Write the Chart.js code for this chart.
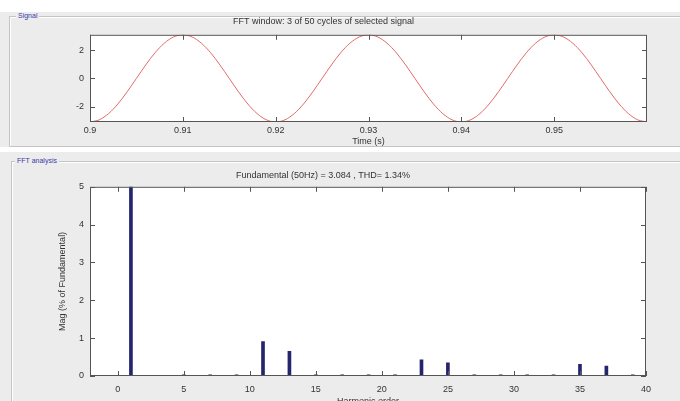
<!DOCTYPE html>
<html>
<head>
<meta charset="utf-8">
<script src="https://cdn.jsdelivr.net/npm/chart.js@4.4.1/dist/chart.umd.min.js"></script>
<style>
  html, body { margin: 0; padding: 0; background: #fff; overflow: hidden; }
  body { width: 680px; height: 401px; position: relative; font-family: 'Liberation Sans Narrow', 'Liberation Sans', Arial, sans-serif; }
  .gray { position: absolute; left: 0; width: 680px; background: #ececec; }
  .frame { position: absolute; border: 1px solid #c4c4c4; box-shadow: inset 1px 1px 0 #fff; }
  .legend { position: absolute; font-size: 7px; color: #3a3aa8; background: #ececec; padding: 0 2px; line-height: 8px; }
  canvas { position: absolute; left: 0; }
</style>
</head>
<body>
<div class="gray" style="top:12px;height:135px"></div>
<div class="gray" style="top:152px;height:249px"></div>
<div class="frame" style="left:9px;top:16px;width:680px;height:129px"></div>
<div class="frame" style="left:11px;top:161px;width:680px;height:260px"></div>
<div class="legend" style="left:16px;top:12px">Signal</div>
<div class="legend" style="left:15px;top:157px">FFT analysis</div>
<div style="position:absolute;left:0;top:0;width:680px;height:150px"><canvas id="signalChart"></canvas></div>
<div style="position:absolute;left:0;top:150px;width:680px;height:262px"><canvas id="fftChart"></canvas></div>

<script>
// signal window, 3 cycles of 50 Hz
const timeValues = [
  0.900, 0.901, 0.902, 0.903, 0.904, 0.905, 0.906, 0.907, 0.908, 0.909,
  0.910, 0.911, 0.912, 0.913, 0.914, 0.915, 0.916, 0.917, 0.918, 0.919,
  0.920, 0.921, 0.922, 0.923, 0.924, 0.925, 0.926, 0.927, 0.928, 0.929,
  0.930, 0.931, 0.932, 0.933, 0.934, 0.935, 0.936, 0.937, 0.938, 0.939,
  0.940, 0.941, 0.942, 0.943, 0.944, 0.945, 0.946, 0.947, 0.948, 0.949,
  0.950, 0.951, 0.952, 0.953, 0.954, 0.955, 0.956, 0.957, 0.958, 0.959,
  0.960
];
const signalValues = [
  -3.08, -2.93, -2.49, -1.81, -0.95, 0.00, 0.95, 1.81, 2.49, 2.93,
   3.08,  2.93,  2.49,  1.81,  0.95, 0.00, -0.95, -1.81, -2.49, -2.93,
  -3.08, -2.93, -2.49, -1.81, -0.95, 0.00, 0.95, 1.81, 2.49, 2.93,
   3.08,  2.93,  2.49,  1.81,  0.95, 0.00, -0.95, -1.81, -2.49, -2.93,
  -3.08, -2.93, -2.49, -1.81, -0.95, 0.00, 0.95, 1.81, 2.49, 2.93,
   3.08,  2.93,  2.49,  1.81,  0.95, 0.00, -0.95, -1.81, -2.49, -2.93,
  -3.08
];
const timeTicks = [0.9, 0.91, 0.92, 0.93, 0.94, 0.95];
const signalTicks = [-2, 0, 2];

// harmonic spectrum (% of fundamental)
const harmonicOrders = [1, 3, 5, 7, 9, 11, 13, 15, 17, 19, 21, 23, 25, 27, 29, 31, 33, 35, 37, 39];
const harmonicMags = [100, 0.02, 0.03, 0.03, 0.03, 0.91, 0.65, 0.03, 0.03, 0.03, 0.03, 0.43, 0.345, 0.03, 0.03, 0.03, 0.03, 0.31, 0.26, 0.03];
const orderTicks = [0, 5, 10, 15, 20, 25, 30, 35, 40];
const magTicks = [0, 1, 2, 3, 4, 5];

const FONT = "'Liberation Sans Narrow', 'Liberation Sans', Arial, sans-serif";
const TXT = '#333';

// white plot box, frame and inward ticks on all four sides
const matlabFrame = {
    id: 'matlabFrame',
    beforeDraw(chart) {
        const { ctx, chartArea: a } = chart;
        ctx.save();
        ctx.fillStyle = '#fff';
        ctx.fillRect(a.left, a.top, a.right - a.left, a.bottom - a.top);
        ctx.restore();
    },
    afterDraw(chart) {
        const { ctx, chartArea: a, scales: { x, y } } = chart;
        ctx.save();
        ctx.strokeStyle = '#555';
        ctx.lineWidth = 1;
        ctx.strokeRect(a.left + 0.5, a.top + 0.5, a.right - a.left - 1, a.bottom - a.top - 1);
        ctx.beginPath();
        x.ticks.forEach(t => {
            const px = Math.round(x.getPixelForValue(t.value)) + 0.5;
            ctx.moveTo(px, a.bottom); ctx.lineTo(px, a.bottom - 5);
            ctx.moveTo(px, a.top); ctx.lineTo(px, a.top + 5);
        });
        y.ticks.forEach(t => {
            const py = Math.round(y.getPixelForValue(t.value)) + 0.5;
            ctx.moveTo(a.left, py); ctx.lineTo(a.left + 5, py);
            ctx.moveTo(a.right, py); ctx.lineTo(a.right - 5, py);
        });
        ctx.stroke();
        ctx.restore();
    }
};

function fixedTicks(list) {
    return scale => { scale.ticks = list.map(v => ({ value: v })); };
}

const tickFont = { family: FONT, size: 9 };

new Chart(document.getElementById('signalChart'), {
    type: 'line',
    data: {
        datasets: [{
            data: timeValues.map((t, i) => ({ x: t, y: signalValues[i] })),
            borderColor: '#e36a6a',
            borderWidth: 1,
            pointRadius: 0,
            cubicInterpolationMode: 'monotone'
        }]
    },
    options: {
        responsive: true,
        maintainAspectRatio: false,
        animation: false,
        layout: { padding: { left: 0, right: 33, top: 0, bottom: 0 } },
        plugins: {
            legend: { display: false },
            tooltip: { enabled: false },
            title: {
                display: true,
                text: 'FFT window: 3 of 50 cycles of selected signal',
                color: TXT,
                font: { family: FONT, size: 9, weight: 'normal' },
                padding: { top: 16, bottom: 8 }
            }
        },
        scales: {
            x: {
                type: 'linear', min: 0.9, max: 0.96,
                afterBuildTicks: fixedTicks(timeTicks),
                afterFit: s => { s.height = 28; },
                grid: { display: false, drawTicks: false },
                border: { display: false },
                ticks: { color: TXT, font: tickFont, padding: 3, maxRotation: 0, callback: v => String(+v.toFixed(2)) },
                title: { display: true, text: 'Time (s)', color: TXT, font: { family: FONT, size: 9 }, padding: { top: 0, bottom: 3 } }
            },
            y: {
                min: -3.084, max: 3.084,
                afterBuildTicks: fixedTicks(signalTicks),
                afterFit: s => { s.width = 90; },
                grid: { display: false, drawTicks: false },
                border: { display: false },
                ticks: { color: TXT, font: tickFont, padding: 6 }
            }
        }
    },
    plugins: [matlabFrame]
});

new Chart(document.getElementById('fftChart'), {
    type: 'bar',
    data: {
        datasets: [{
            data: harmonicOrders.map((h, i) => ({ x: h, y: harmonicMags[i] })),
            backgroundColor: '#25256e',
            barThickness: 3,
            grouped: false
        }]
    },
    options: {
        responsive: true,
        maintainAspectRatio: false,
        animation: false,
        layout: { padding: { left: 0, right: 34, top: 0, bottom: 0 } },
        plugins: {
            legend: { display: false },
            tooltip: { enabled: false },
            title: {
                display: true,
                text: 'Fundamental (50Hz) = 3.084 , THD= 1.34%',
                color: TXT,
                font: { family: FONT, size: 9, weight: 'normal' },
                padding: { top: 20, bottom: 6 }
            }
        },
        scales: {
            x: {
                type: 'linear', min: -2.1, max: 40, offset: false,
                afterBuildTicks: fixedTicks(orderTicks),
                afterFit: s => { s.height = 36; },
                grid: { display: false, drawTicks: false, offset: false },
                border: { display: false },
                ticks: { color: TXT, font: tickFont, padding: 8, maxRotation: 0 },
                title: { display: true, text: 'Harmonic order', color: TXT, font: { family: FONT, size: 9 }, padding: { top: 0, bottom: 5 } }
            },
            y: {
                min: 0, max: 5,
                afterBuildTicks: fixedTicks(magTicks),
                afterFit: s => { s.width = 90; },
                grid: { display: false, drawTicks: false },
                border: { display: false },
                ticks: { color: TXT, font: tickFont, padding: 6 },
                title: { display: true, text: 'Mag (% of Fundamental)', color: TXT, font: { family: FONT, size: 9 }, padding: { top: 57, bottom: 0 } }
            }
        }
    },
    plugins: [matlabFrame]
});
</script>
</body>
</html>
